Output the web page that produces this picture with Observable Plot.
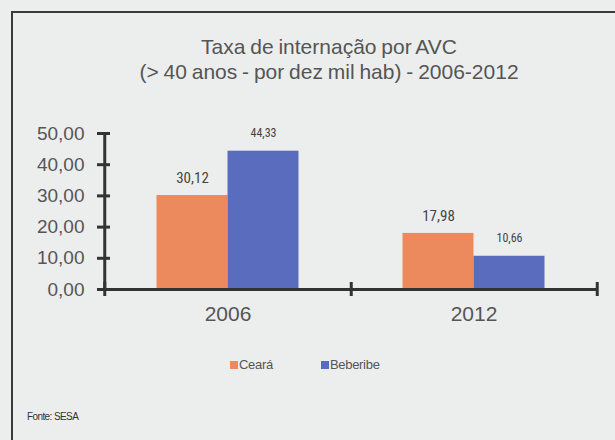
<!DOCTYPE html>
<html>
<head>
<meta charset="utf-8">
<script src="https://cdn.jsdelivr.net/npm/d3@7"></script>
<script src="https://cdn.jsdelivr.net/npm/@observablehq/plot@0.6"></script>
<style>
  html, body { margin: 0; padding: 0; background: #eceeee; }
  #wrap { position: relative; width: 615px; height: 440px; background: #eceeee; overflow: hidden; font-family: "Liberation Sans", Arial, sans-serif; }
  .bt { position: absolute; left: 11px; top: 11px; right: -5px; height: 2px; background: #3a3a3a; }
  .bl { position: absolute; left: 11px; top: 11px; width: 2px; bottom: -5px; background: #3a3a3a; }
  #title { position: absolute; left: 40px; width: 578px; top: 34px; text-align: center; color: #555; font-size: 21px; line-height: 25px; word-spacing: -1px; }
  #chart { position: absolute; left: 0; top: 100px; }
  #legend { position: absolute; left: 230px; top: 357px; font-size: 13px; color: #555; display: flex; letter-spacing: -0.3px; }
  #legend .item { display: flex; align-items: center; }
  #legend .sw { width: 8px; height: 8px; margin-right: 1px; }
  #source { position: absolute; left: 27px; top: 411px; font-size: 10px; color: #333; letter-spacing: -0.6px; }
</style>
</head>
<body>
<div id="wrap">
  <div class="bt"></div>
  <div class="bl"></div>
  <div id="title"></div>
  <div id="chart"></div>
  <div id="legend"></div>
  <div id="source"></div>
</div>
<script>
const titleLines = ["Taxa de internação por AVC", "(> 40 anos - por dez mil hab) - 2006-2012"];
const years = ["2006", "2012"];
const series = ["Ceará", "Beberibe"];
const cearaValues = [30.12, 17.98];
const beberibeValues = [44.33, 10.66];
const yTicks = [0, 10, 20, 30, 40, 50];
const seriesColors = ["#ec8a5e", "#5a6cbd"];
const sourceText = "Fonte: SESA";

const fmt = d => d.toFixed(2).replace(".", ",");
const cearaData = years.map((year, i) => ({year, value: cearaValues[i], series: series[0]}));
const beberibeData = years.map((year, i) => ({year, value: beberibeValues[i], series: series[1]}));

document.getElementById("title").innerHTML = titleLines.map(t => `<div>${t.replace(/>/g, "&gt;")}</div>`).join("");
document.getElementById("source").textContent = sourceText;
document.getElementById("legend").innerHTML = series.map((s, i) =>
  `<div class="item" style="margin-right:${i === 0 ? 48 : 0}px"><span class="sw" style="background:${seriesColors[i]}"></span>${s}</div>`).join("");

const sans = "'Liberation Sans', Arial, sans-serif";
const cond = "'Roboto Condensed', 'DejaVu Sans Condensed', Arial, sans-serif";
const half = 35.5;       // half bar width
const halfStep = 123.25; // half band step

const chart = Plot.plot({
  width: 615,
  height: 240,
  marginTop: 33,
  marginBottom: 51,
  marginLeft: 104,
  marginRight: 18,
  style: {background: "transparent", color: "#4d4d4d", fontFamily: sans, overflow: "visible"},
  x: {domain: years, paddingInner: 0.712, paddingOuter: 0.356, axis: null},
  y: {domain: [0, 50], axis: null},
  color: {domain: series, range: seriesColors},
  marks: [
    Plot.barY(cearaData, {x: "year", y: "value", fill: "series", dx: -half}),
    Plot.barY(beberibeData, {x: "year", y: "value", fill: "series", dx: half}),
    Plot.text(cearaData, {x: "year", y: "value", text: d => fmt(d.value), dx: -half, dy: -17, fontSize: 15, fill: "#444", fontFamily: cond}),
    Plot.text(beberibeData, {x: "year", y: "value", text: d => fmt(d.value), dx: half, dy: -18, fontSize: 12, fill: "#444", fontFamily: cond, letterSpacing: "-0.6px"}),
    Plot.ruleY([0], {stroke: "#333", strokeWidth: 3}),
    Plot.ruleX([years[0]], {y1: 0, y2: 50, dx: -halfStep, stroke: "#333", strokeWidth: 3}),
    Plot.axisY({ticks: yTicks, tickSize: 13, dx: 6, tickFormat: () => "", stroke: "#333", strokeWidth: 3, label: null}),
    Plot.axisY({ticks: yTicks, tickSize: 0, tickPadding: 20, tickFormat: fmt, fontSize: 19, fontFamily: sans, fill: "#555", label: null}),
    Plot.axisX([years[0]], {tickSize: 14, dx: -halfStep, dy: -7, tickFormat: () => "", stroke: "#333", strokeWidth: 3, label: null}),
    Plot.axisX(years, {tickSize: 14, dx: halfStep, dy: -7, tickFormat: () => "", stroke: "#333", strokeWidth: 3, label: null}),
    Plot.axisX(years, {tickSize: 0, tickPadding: 17, fontSize: 21, fontFamily: sans, fill: "#555", label: null})
  ]
});
document.getElementById("chart").appendChild(chart);
</script>
</body>
</html>
